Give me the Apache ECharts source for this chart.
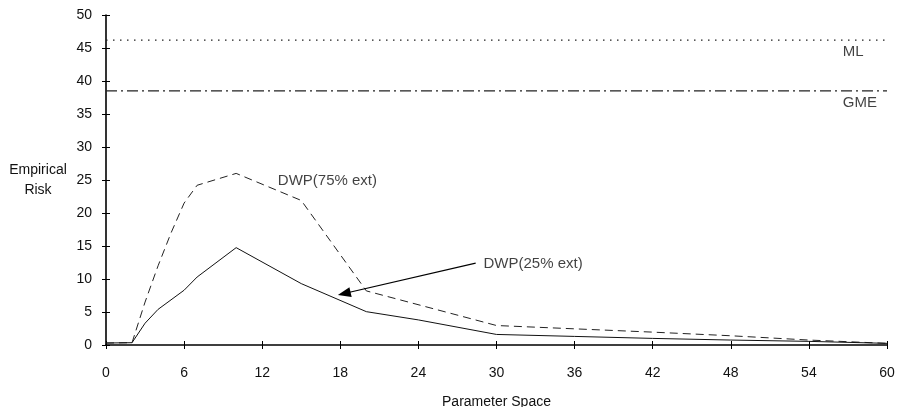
<!DOCTYPE html>
<html>
<head>
<meta charset="utf-8">
<script src="https://cdn.jsdelivr.net/npm/echarts@6/dist/echarts.min.js"></script>
<style>
  html, body { margin: 0; padding: 0; background: #fff; }
  #chart { width: 897px; height: 407px; }
</style>
</head>
<body>
<div id="chart"></div>
<script>
// 数据
const xTicks = [0, 6, 12, 18, 24, 30, 36, 42, 48, 54, 60]
const yTicks = [0, 5, 10, 15, 20, 25, 30, 35, 40, 45, 50]

const dwp25 = [
  [0, 0.3], [2, 0.35], [3, 3.3], [4, 5.4], [6, 8.3], [7, 10.3], [10, 14.75],
  [15, 9.3], [20, 5.05], [24, 3.8], [30, 1.6], [36, 1.3], [42, 1.0],
  [48, 0.75], [54, 0.55], [60, 0.25]
]
const dwp75 = [
  [0, 0.3], [2, 0.35], [3, 6.5], [4, 12], [5, 17], [6, 21.5], [7, 24.2],
  [10, 26.0], [15, 21.9], [20, 8.2], [30, 2.95], [36, 2.45], [42, 1.95],
  [48, 1.4], [54, 0.75], [60, 0.25]
]
const mlLevel = 46.2
const gmeLevel = 38.5

// 注释文字 [x, y, text]
const notes = [
  [13.2, 24.9, 'DWP(75% ext)'],
  [29.0, 12.3, 'DWP(25% ext)'],
  [56.6, 44.4, 'ML'],
  [56.6, 36.7, 'GME']
]
// 箭头 起点 -> 终点
const arrowFrom = [28.4, 12.4]
const arrowTo = [18.3, 7.8]

const font = '"Liberation Sans", Arial, sans-serif'
const chart = echarts.init(document.getElementById('chart'))

const baseX = {
  type: 'value',
  min: xTicks[0],
  max: xTicks[xTicks.length - 1],
  interval: 6,
  splitLine: { show: false }
}
const baseY = {
  type: 'value',
  min: yTicks[0],
  max: yTicks[yTicks.length - 1],
  interval: 5,
  splitLine: { show: false }
}

const option = {
  backgroundColor: '#fff',
  animation: false,
  grid: { left: 106, right: 10, top: 15, bottom: 62, outerBoundsMode: 'none', containLabel: false },
  xAxis: [
    Object.assign({}, baseX, {
      name: 'Parameter Space',
      nameLocation: 'middle',
      nameGap: 50,
      nameTextStyle: { fontFamily: font, fontSize: 14, color: '#111' },
      axisLine: { lineStyle: { color: '#000', width: 1.6 } },
      axisTick: { length: 4, lineStyle: { color: '#000' } },
      axisLabel: { margin: 21, fontFamily: font, fontSize: 14, color: '#111' }
    }),
    Object.assign({}, baseX, {
      position: 'bottom',
      axisLine: { show: false },
      axisTick: { inside: true, length: 4, lineStyle: { color: '#000' } },
      axisLabel: { show: false }
    })
  ],
  yAxis: [
    Object.assign({}, baseY, {
      name: 'Empirical\nRisk',
      nameLocation: 'middle',
      nameRotate: 0,
      nameGap: 68,
      nameTextStyle: { fontFamily: font, fontSize: 14, color: '#111', lineHeight: 20, align: 'center' },
      axisLine: { lineStyle: { color: '#000', width: 1.6 } },
      axisTick: { length: 4, lineStyle: { color: '#000' } },
      axisLabel: { margin: 14, fontFamily: font, fontSize: 14, color: '#111' }
    }),
    Object.assign({}, baseY, {
      position: 'left',
      axisLine: { show: false },
      axisTick: { inside: true, length: 4, lineStyle: { color: '#000' } },
      axisLabel: { show: false }
    })
  ],
  series: [
    {
      name: 'ML',
      type: 'line',
      data: [[0, mlLevel], [60, mlLevel]],
      showSymbol: false,
      lineStyle: { color: '#222', width: 1.2, type: [1.5, 5.5] }
    },
    {
      name: 'GME',
      type: 'line',
      data: [[0, gmeLevel], [60, gmeLevel]],
      showSymbol: false,
      lineStyle: { color: '#222', width: 1.2, type: [11, 4, 2, 4] }
    },
    {
      name: 'DWP(75% ext)',
      type: 'line',
      data: dwp75,
      showSymbol: false,
      lineStyle: { color: '#222', width: 1, type: [8, 5] }
    },
    {
      name: 'DWP(25% ext)',
      type: 'line',
      data: dwp25,
      showSymbol: false,
      lineStyle: { color: '#111', width: 1 }
    },
    {
      name: 'notes',
      type: 'scatter',
      data: notes.map(n => ({ value: [n[0], n[1]], name: n[2] })),
      symbolSize: 0,
      label: {
        show: true,
        position: 'right',
        distance: 0,
        formatter: p => p.name,
        fontFamily: font,
        fontSize: 15,
        color: '#111'
      },
      markLine: {
        silent: true,
        symbol: ['none', 'triangle'],
        symbolSize: [10, 13],
        label: { show: false },
        lineStyle: { color: '#000', width: 1.2, type: 'solid' },
        data: [[{ coord: arrowFrom }, { coord: arrowTo }]]
      }
    }
  ]
}

chart.setOption(option)
</script>
</body>
</html>
